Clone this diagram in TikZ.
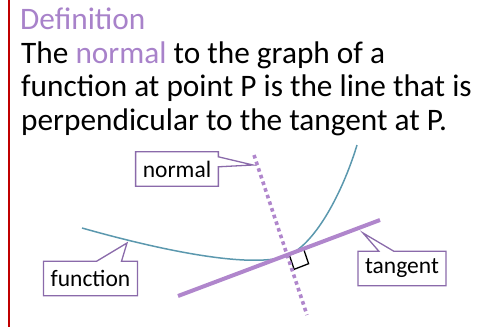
\documentclass[tikz,border=0pt]{standalone}
\usepackage{fontspec}
\setmainfont{Carlito}
\usetikzlibrary{calc}

\definecolor{defPurple}{HTML}{A882CA}
\definecolor{lineLilac}{HTML}{B086CC}
\definecolor{boxPurple}{HTML}{8A6AAA}
\definecolor{curveTeal}{HTML}{5B98AE}
\definecolor{barRed}{HTML}{C00000}

\begin{document}
\begin{tikzpicture}[
    x=1pt, y=-1pt,
    normDefTextStyle/.style={anchor=base west, inner sep=0pt,
        font=\fontsize{31.3}{33.6}\selectfont},
    normLblStyle/.style={inner xsep=7pt, inner ysep=0pt, minimum height=34pt,
        font=\fontsize{23.5}{25}\selectfont},
    normOutlineStyle/.style={draw=boxPurple, line width=1.3pt, line join=miter},
    normCurveStyle/.style={curveTeal, line width=1.5pt},
    normTangentStyle/.style={lineLilac, line width=4pt},
    normNormalStyle/.style={lineLilac, line width=3.6pt, dash pattern=on 3.6pt off 3.4pt},
    >=stealth
]
    \useasboundingbox (0,0) rectangle (489,327);

    % --- 左侧红线 ---
    \draw[barRed, line width=2.2pt] (9,0) -- (9,327);

    % --- 定义文字 ---
    \node[normDefTextStyle, text=defPurple] (defTitle) at (20,29) {Definition};
    \node[normDefTextStyle] (defLineA) at (21,63)
        {The \textcolor{defPurple}{normal} to the graph of a};
    \node[normDefTextStyle] (defLineB) at (21,96.6)
        {function at point P is the line that is};
    \node[normDefTextStyle] (defLineC) at (21,130.2)
        {perpendicular to the tangent at P.};

    % --- 图形 ---
    \coordinate (P) at (287,256);
    \coordinate (funStart) at (82,228);
    \coordinate (funEnd) at (357,145);
    \coordinate (tanLeft) at (178,296);
    \coordinate (tanRight) at (380,220);
    \coordinate (normTop) at (254,155);
    \coordinate (normBot) at (307,315);

    % 直角
    \coordinate (rightA) at ($(P)!2.5pt!(tanRight)$);
    \coordinate (rightD) at ($(P)!18pt!(tanRight)$);
    \coordinate (normStep) at ($(P)!15pt!(normBot)$);
    \coordinate (rightB) at ($(rightA)+(normStep)-(P)$);
    \coordinate (rightC) at ($(rightD)+(normStep)-(P)$);
    \draw[line width=1.3pt] (rightA) -- (rightB) -- (rightC) -- (rightD) -- cycle;

    % 函数曲线
    \draw[normCurveStyle] (funStart) .. controls (160,250) and (250,269) .. (P)
        .. controls (318,243) and (345,185) .. (funEnd);

    % 切线, 法线
    \draw[normTangentStyle] (tanLeft) -- (tanRight);
    \draw[normNormalStyle] (normTop) -- (normBot);

    % --- 标注框 ---
    \node[normLblStyle] (lblNormal) at (177,169) {normal};
    \node[normLblStyle] (lblFunction) at (90.5,278.5) {function};
    \node[normLblStyle] (lblTangent) at (402,268.5) {tangent};

    \coordinate (tipNormal) at (253,165);
    \coordinate (tipFunction) at (127,243);
    \coordinate (tipTangent) at (363,233);

    \draw[normOutlineStyle] (lblNormal.north west) -- (lblNormal.north east)
        -- ([yshift=-5pt]lblNormal.north east) -- (tipNormal)
        -- ([yshift=-15pt]lblNormal.north east) -- (lblNormal.south east)
        -- (lblNormal.south west) -- cycle;
    \draw[normOutlineStyle] (lblFunction.north west)
        -- ([xshift=53pt]lblFunction.north west) -- (tipFunction)
        -- ([xshift=78pt]lblFunction.north west) -- (lblFunction.north east)
        -- (lblFunction.south east) -- (lblFunction.south west) -- cycle;
    \draw[normOutlineStyle] (lblTangent.north west)
        -- ([xshift=21pt]lblTangent.north west) -- (tipTangent)
        -- ([xshift=36pt]lblTangent.north west) -- (lblTangent.north east)
        -- (lblTangent.south east) -- (lblTangent.south west) -- cycle;
\end{tikzpicture}
\end{document}
